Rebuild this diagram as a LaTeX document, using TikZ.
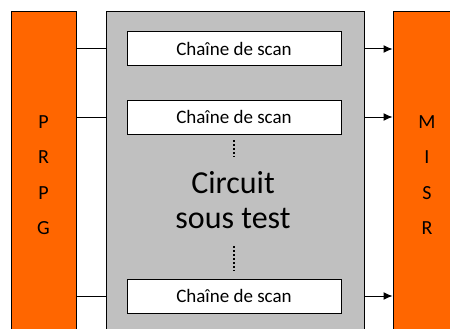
\documentclass[tikz,border=0pt]{standalone}
\usepackage{fontspec}
\setmainfont{Carlito}
\usetikzlibrary{positioning,arrows.meta}

\definecolor{orangebox}{HTML}{FF6600}
\definecolor{graybox}{HTML}{C0C0C0}

\tikzset{
  bloc/.style={draw=black, line width=1pt, fill=orangebox, minimum width=65pt, minimum height=330pt, inner sep=0pt},
  chaine/.style={draw=black, line width=1pt, fill=white, minimum width=214pt, minimum height=34pt, inner sep=0pt, font=\fontsize{19}{21}\selectfont},
  lettres/.style={align=center, font=\fontsize{20}{35.5}\selectfont}
}

\begin{document}
\begin{tikzpicture}[x=1pt, y=-1pt, >={Latex[length=9pt,width=8pt]}]
\useasboundingbox (0,0) rectangle (450,329);
\clip (0,0) rectangle (450,329);

% big blocks
\node[bloc] (prpg) at (43.5,177) {};
\node[bloc] (misr) at (425.5,177) {};
\node[draw=black, line width=1pt, fill=graybox, minimum width=258pt, minimum height=330pt, inner sep=0pt] (cut) at (235,177) {};

% letters
\node[lettres] (lp) at (43.5,175) {P\\R\\P\\G};
\node[lettres] (lm) at (427,175) {M\\I\\S\\R};

% scan chains
\node[chaine] (sc1) at (234,49) {Chaîne de scan};
\node[chaine] (sc2) at (234,117) {Chaîne de scan};
\node[chaine] (sc3) at (234,296) {Chaîne de scan};

% circuit text
\node[align=center, font=\fontsize{32}{35}\selectfont] (txt) at (233,200) {Circuit\\sous test};

% dots
\coordinate (d1) at (234,140);
\coordinate (d2) at (234,157);
\coordinate (d3) at (234,246);
\coordinate (d4) at (234,271);
\draw[line width=2pt, dash pattern=on 2pt off 2pt] (d1) -- (d2);
\draw[line width=2pt, dash pattern=on 2pt off 2pt] (d3) -- (d4);

% PRPG to chains
\draw[line width=1pt] (prpg.east |- sc1) -- (cut.west |- sc1);
\draw[line width=1pt] (prpg.east |- sc2) -- (cut.west |- sc2);
\draw[line width=1pt] (prpg.east |- sc3) -- (cut.west |- sc3);

% chains to MISR
\draw[->, line width=1pt] (cut.east |- sc1) -- (misr.west |- sc1);
\draw[->, line width=1pt] (cut.east |- sc2) -- (misr.west |- sc2);
\draw[->, line width=1pt] (cut.east |- sc3) -- (misr.west |- sc3);
\end{tikzpicture}
\end{document}
